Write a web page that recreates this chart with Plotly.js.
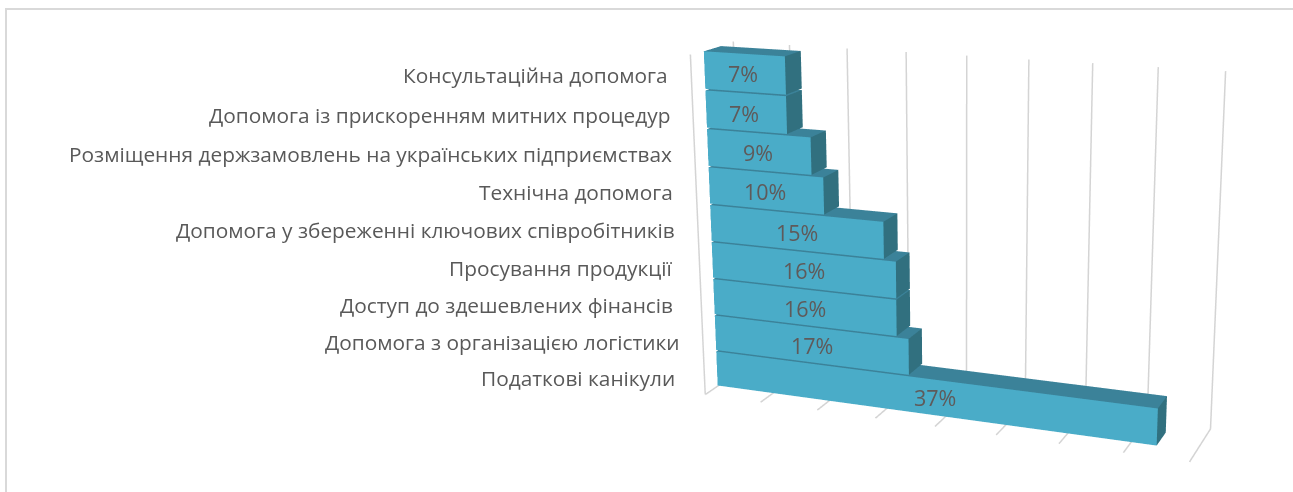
<!DOCTYPE html>
<html><head><meta charset="utf-8">
<script src="https://cdn.plot.ly/plotly-3.0.1.min.js"></script>
<style>
html,body{margin:0;padding:0;background:#fff;width:1293px;height:492px;overflow:hidden}
#chart{position:absolute;left:3px;top:-454px;width:1920px;height:1417px}
#frame{position:absolute;left:5px;top:8px;right:-5px;bottom:-5px;border:1px solid #d9d9d9;border-width:2px 0 0 2px;pointer-events:none}
</style></head><body>
<div id="chart"></div><div id="frame"></div>
<script>
// bottom to top
const categories = [
  "Податкові канікули\u00a0",
  "Допомога з організацією логістики",
  "Доступ до здешевлених фінансів\u00a0",
  "Просування продукції\u00a0",
  "Допомога у збереженні ключових співробітників",
  "Технічна допомога",
  "Розміщення держзамовлень на українських підприємствах",
  "Допомога із прискоренням митних процедур",
  "Консультаційна допомога"
];
const values = [37, 17, 16, 16, 15, 10, 9, 7, 7];
const valueTicks = [0, 5, 10, 15, 20, 25, 30, 35, 40];

const GAP = 0.02, Y0 = 0.3, Y1 = 0.7;
const FRONT = '#4AACC8', SIDE = '#31707F', TOP = '#3B8299', GRID = '#d4d4d4';
const FONT = '"Open Sans", Lato, sans-serif';

function mesh(color, faceOf) {
  const xs=[],ys=[],zs=[],i=[],j=[],k=[];
  values.forEach((v,n)=>{
    const q = faceOf(v, n+GAP, n+1-GAP);
    const b = xs.length;
    q.forEach(p=>{xs.push(p[0]);ys.push(p[1]);zs.push(p[2]);});
    i.push(b,b); j.push(b+1,b+2); k.push(b+2,b+3);
  });
  return {type:'mesh3d',x:xs,y:ys,z:zs,i,j,k,color,flatshading:true,hoverinfo:'skip',
    lighting:{ambient:1,diffuse:0,specular:0,roughness:1,fresnel:0},showscale:false};
}
const traces = [
  mesh(FRONT,(v,a,b)=>[[0,Y0,a],[v,Y0,a],[v,Y0,b],[0,Y0,b]]),
  mesh(SIDE,(v,a,b)=>[[v,Y0,a],[v,Y1,a],[v,Y1,b],[v,Y0,b]]),
  mesh(TOP,(v,a,b)=>[[0,Y0,b],[v,Y0,b],[v,Y1,b],[0,Y1,b]])
];
// gridlines: back wall + floor, and the front edge of the side wall
const gx=[],gy=[],gz=[];
valueTicks.forEach(t=>{
  gx.push(t,t,t,null); gy.push(0,1,1,null); gz.push(0,0,9,null);
});
gx.push(0,0,null); gy.push(0,0,null); gz.push(0,9,null);
traces.push({type:'scatter3d',mode:'lines',x:gx,y:gy,z:gz,connectgaps:false,hoverinfo:'skip',
  line:{color:GRID,width:3},showlegend:false});

const annotations = [];
categories.forEach((c,n)=>annotations.push({x:0,y:0,z:n+0.5,text:c,showarrow:false,xanchor:'right',yanchor:'middle',
  xshift:-21,yshift:-1,font:{family:FONT,size:20.85,color:'#595959'}}));
values.forEach((v,n)=>annotations.push({x:v/2,y:Y0,z:n+0.5,text:v+'%',showarrow:false,xanchor:'center',yanchor:'middle',
  xshift:0.34*v-4,yshift:-1,font:{family:FONT,size:21.5,color:'#5f5a5a'}}));

const off = a=>({visible:false,showgrid:false,zeroline:false,showline:false,showticklabels:false,showbackground:false,showspikes:false,autorange:false,range:a});
const K = 2;
Plotly.newPlot('chart',traces,{
  width:1920,height:1417,margin:{l:0,r:0,t:0,b:0},
  paper_bgcolor:'rgba(0,0,0,0)',plot_bgcolor:'rgba(0,0,0,0)',showlegend:false,hovermode:false,
  scene:{
    domain:{x:[0,1],y:[0,1]},
    bgcolor:'rgba(0,0,0,0)',
    xaxis:off([0,40]),yaxis:off([0,1]),zaxis:off([0,9]),
    aspectmode:'manual',aspectratio:{x:.2871*K,y:.05*K,z:.199*K},
    camera:{projection:{type:'perspective'},up:{x:.013,y:.005,z:1},
      center:{x:.0069*K,y:.0008*K,z:-.0067*K},
      eye:{x:.325*K,y:-.848*K,z:.25*K}},
    annotations
  }
},{displayModeBar:false});
</script>
</body></html>
